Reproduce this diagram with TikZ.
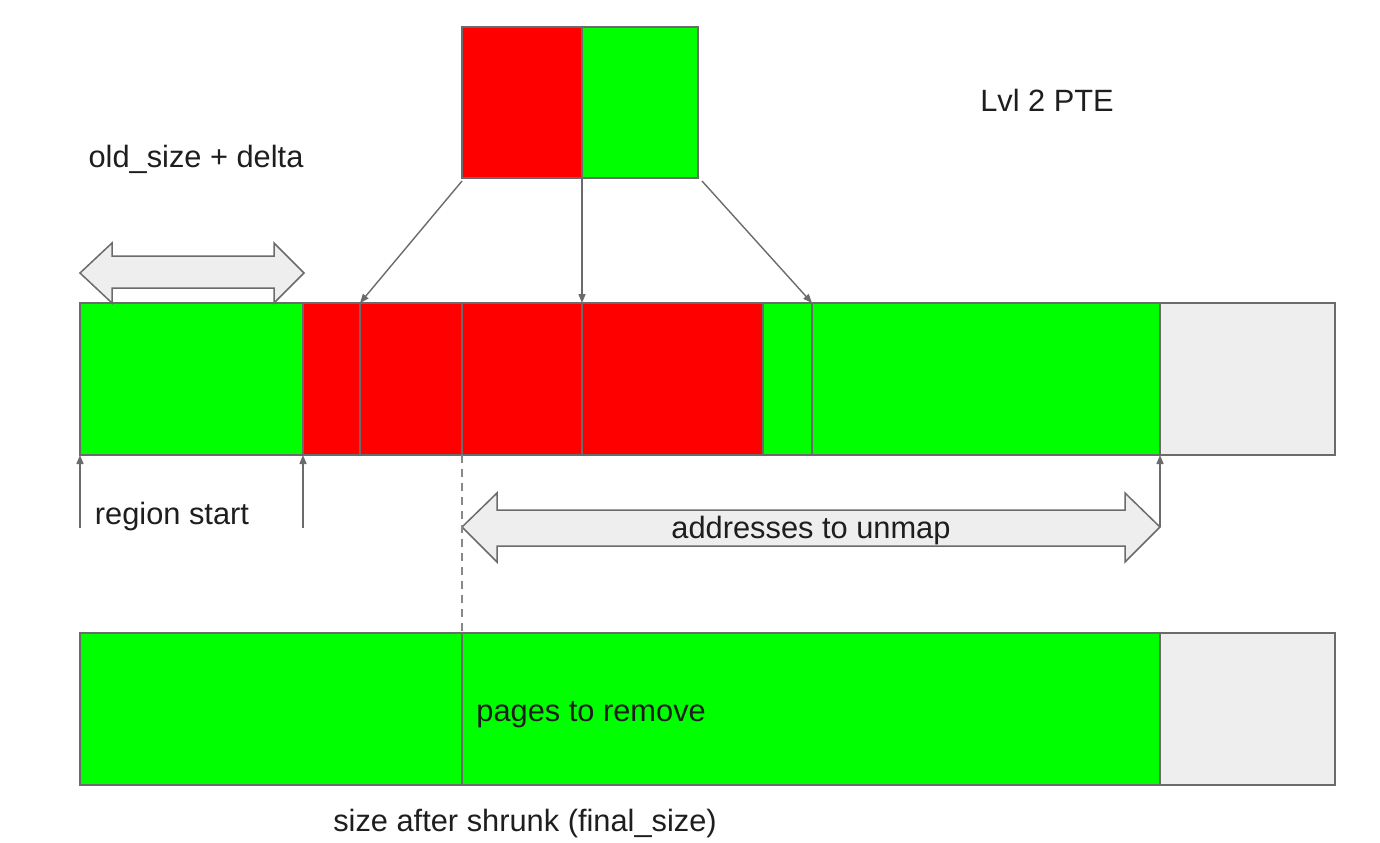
\documentclass[tikz,border=0pt]{standalone}
\usepackage{fontspec}
\setmainfont{Liberation Sans}
\usetikzlibrary{arrows.meta}
\definecolor{pgreen}{HTML}{00FF00}
\definecolor{pred}{HTML}{FF0000}
\definecolor{pgrey}{HTML}{EEEEEE}
\definecolor{lgrey}{HTML}{6B6B6B}
\definecolor{tdark}{HTML}{1E1E1E}
\tikzset{
  seg/.style={draw=lgrey, line width=0.75pt, anchor=north west, inner sep=0pt, outer sep=0pt, minimum height=76pt},
  gseg/.style={seg, fill=pgreen},
  rseg/.style={seg, fill=pred},
  eseg/.style={seg, fill=pgrey},
  conn/.style={draw=lgrey, line width=0.7pt, -{Triangle[length=4.5pt,width=3.5pt]}},
  bigarrow/.style={draw=lgrey, fill=pgrey, line width=0.75pt, line join=miter},
  lbl/.style={font=\fontsize{15.4pt}{18pt}\selectfont, text=tdark, inner sep=0pt},
}
\begin{document}
\begin{tikzpicture}[x=0.5pt, y=-0.5pt]
\useasboundingbox (0,0) rectangle (1380,842);
% top PTE box
\node[rseg, minimum width=60pt, minimum height=75.5pt] (pr) at (462,27) {};
\node[gseg, minimum width=58pt, minimum height=75.5pt] (pg) at (582,27) {};
% main bar
\node[gseg, minimum width=111.5pt] (s1) at (80,303) {};
\node[rseg, minimum width=28.5pt] (s2) at (303,303) {};
\node[rseg, minimum width=51pt] (s3) at (360,303) {};
\node[rseg, minimum width=60pt] (s4) at (462,303) {};
\node[rseg, minimum width=90.5pt] (s5) at (582,303) {};
\node[gseg, minimum width=24.5pt] (s6) at (763,303) {};
\node[gseg, minimum width=174pt] (s7) at (812,303) {};
\node[eseg, minimum width=87.5pt] (s8) at (1160,303) {};
% bottom bar
\node[gseg, minimum width=191pt] (b1) at (80,633) {};
\node[gseg, minimum width=349pt] (b2) at (462,633) {};
\node[eseg, minimum width=87.5pt] (b3) at (1160,633) {};
% double arrows
\path[bigarrow] (80,273) -- (112,243) -- (112,256) -- (274,256) -- (274,243) -- (304,273)
  -- (274,303) -- (274,288) -- (112,288) -- (112,303) -- cycle;
\path[bigarrow] (462,527) -- (497,493) -- (497,510) -- (1125,510) -- (1125,493) -- (1160,527)
  -- (1125,562) -- (1125,546) -- (497,546) -- (497,562) -- cycle;
% connectors from PTE
\draw[conn] ([yshift=-1.5pt]pr.south west) -- (s3.north west);
\draw[conn] (pr.south east) -- (s5.north west);
\draw[conn] ([xshift=2pt,yshift=-1.5pt]pg.south east) -- (s7.north west);
% up arrows
\coordinate (u1) at (80,528);
\coordinate (u2) at (303,528);
\coordinate (u3) at (1160,527);
\draw[conn] (u1) -- (s1.south west);
\draw[conn] (u2) -- (s1.south east);
\draw[conn] (u3) -- (s7.south east);
% dashed guide
\draw[draw=lgrey!80, line width=0.6pt, dash pattern=on 4pt off 3pt] (s4.south west) -- (b2.north west);
% labels
\node[lbl] (lvl) at (1047,100) {Lvl 2 PTE};
\node[lbl] (old) at (196,159) {old\_size + delta};
\node[lbl] (reg) at (172,517) {region start};
\node[lbl] (addr) at (811,531) {addresses to unmap};
\node[lbl, anchor=west] (pages) at (476,715) {pages to remove};
\node[lbl] (size) at (525,824) {size after shrunk (final\_size)};
\end{tikzpicture}
\end{document}
